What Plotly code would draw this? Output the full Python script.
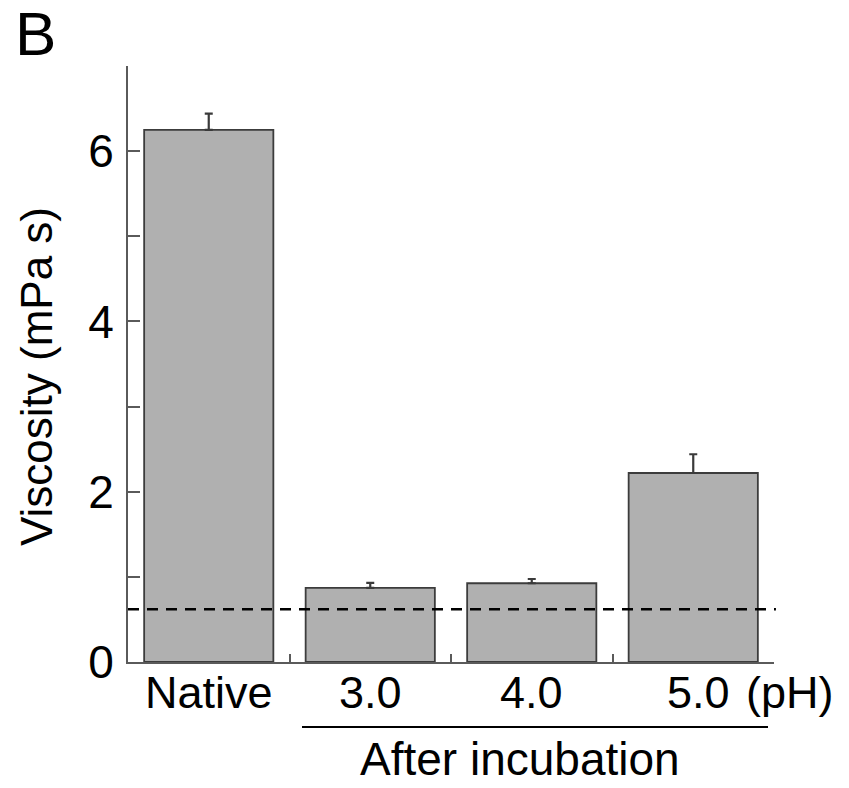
import plotly.graph_objects as go

categories = ["Native", "3.0", "4.0", "5.0"]
viscosity = [6.25, 0.87, 0.925, 2.22]
error_plus = [0.19, 0.06, 0.05, 0.22]
baseline_value = 0.62
y_tickvals = [0, 1, 2, 3, 4, 5, 6, 7]
y_ticktext = ["0", "", "2", "", "4", "", "6", ""]

FONT = "Liberation Sans, Arial, sans-serif"
AXIS_GREY = "#5a5a5a"

L, R, T, B = 128, 75, 66, 126
W, H = 849, 788
PW = W - L - R
PH = H - T - B


def px_x(p):
    return (p - L) / PW


def px_y(p):
    return (H - B - p) / PH


fig = go.Figure()
fig.add_trace(go.Bar(
    x=categories,
    y=viscosity,
    width=0.8,
    marker=dict(color="#b0b0b0", line=dict(color="#3c3c3c", width=1.8)),
    error_y=dict(type="data", array=error_plus, symmetric=False, arrayminus=[0] * 4,
                 color="#3a3a3a", thickness=2.2, width=4),
    showlegend=False,
))

fig.add_shape(type="line", xref="paper", yref="y", x0=0, x1=1.003,
              y0=baseline_value, y1=baseline_value,
              line=dict(color="black", width=2.5, dash="11px,8px"))

# bracket under the incubated samples
fig.add_shape(type="line", xref="paper", yref="paper",
              x0=px_x(302), x1=px_x(768), y0=px_y(727), y1=px_y(727),
              line=dict(color="black", width=2))

# category labels drawn at the axis' category positions (by category index)
label_shift = [0, 0, 0, 5]
for i, c in enumerate(categories):
    fig.add_annotation(xref="x", yref="paper", x=i, y=px_y(665), text=c,
                       xanchor="center", yanchor="top", showarrow=False,
                       xshift=label_shift[i],
                       font=dict(size=45, family=FONT, color="black"))

annotations = [
    dict(text="(pH)", x=px_x(744), y=px_y(665), xanchor="left", yanchor="top",
         font=dict(size=45, family=FONT, color="black")),
    dict(text="After incubation", x=px_x(520), y=px_y(787), xanchor="center", yanchor="bottom",
         font=dict(size=46, family=FONT, color="black")),
    dict(text="B", x=px_x(13), y=px_y(33), xanchor="left", yanchor="middle",
         font=dict(size=62, family=FONT, color="black")),
    dict(text="Viscosity (mPa s)", x=px_x(36), y=px_y(377), xanchor="center", yanchor="middle",
         textangle=-90, font=dict(size=44, family=FONT, color="black")),
]
for a in annotations:
    fig.add_annotation(xref="paper", yref="paper", showarrow=False, **a)

fig.update_layout(
    width=W, height=H,
    margin=dict(l=L, r=R, t=T, b=B, pad=0),
    paper_bgcolor="white", plot_bgcolor="white",
    font=dict(family=FONT, size=44, color="black"),
    bargap=0.2,
)
fig.update_xaxes(
    range=[-0.5, 3.5], showline=True, linecolor=AXIS_GREY, linewidth=2,
    ticks="inside", ticklen=8, tickwidth=1.5, tickcolor=AXIS_GREY,
    tickson="boundaries", showgrid=False, zeroline=False, showticklabels=False,
)
fig.update_yaxes(
    range=[0, 7], showline=True, linecolor=AXIS_GREY, linewidth=2,
    tickvals=y_tickvals, ticktext=y_ticktext,
    ticks="inside", ticklen=12, tickwidth=1.5, tickcolor=AXIS_GREY,
    showgrid=False, zeroline=False, ticklabelstandoff=3,
    tickfont=dict(size=46, family=FONT, color="black"),
)

fig.write_html("out.html")
